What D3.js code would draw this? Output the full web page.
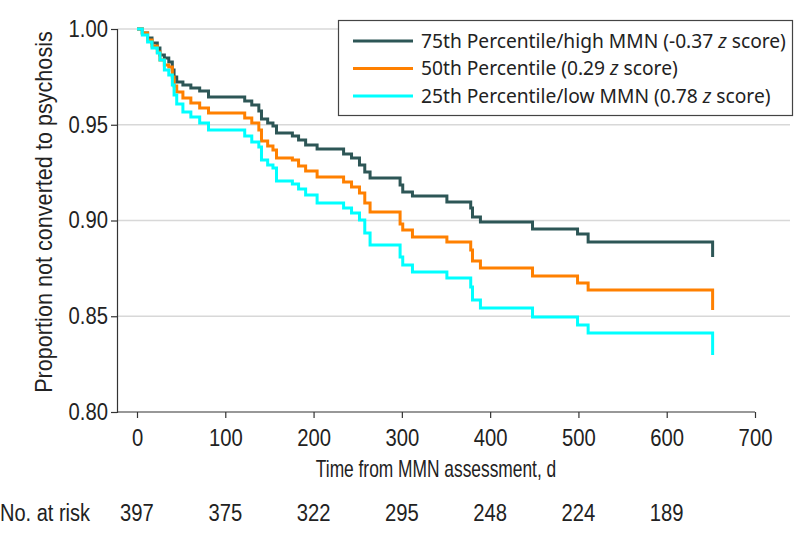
<!DOCTYPE html>
<html><head><meta charset="utf-8">
<script src="https://cdn.jsdelivr.net/npm/d3@7"></script>
<style>
body{margin:0;background:#fff;}
svg{display:block;}
.ax{font-family:"Liberation Sans",Arial,sans-serif;fill:#222;}
.lg{font-family:"Noto Sans","Open Sans",sans-serif;fill:#222;}
</style></head>
<body>
<svg id="c" width="794" height="538"></svg>
<script>
// Shared event times (days) of the model-based survival curves
const times = [6,12,17,23,26,31,36,40,42,45,52,61,71,81,122,130,138,141,148,154,158,176,183,191,204,234,243,252,258,264,298,301,312,351,378,380,389,448,499,511,652];
const seriesNames = ["75th Percentile/high MMN (-0.37 z score)","50th Percentile (0.29 z score)","25th Percentile/low MMN (0.78 z score)"];
const high = [0.9979,0.9953,0.9927,0.9901,0.9864,0.9849,0.9828,0.9786,0.9749,0.9723,0.9708,0.9692,0.9676,0.9645,0.9624,0.9603,0.9572,0.9530,0.9509,0.9493,0.9457,0.9441,0.9420,0.9394,0.9373,0.9347,0.9326,0.9290,0.9253,0.9222,0.9185,0.9149,0.9128,0.9097,0.9065,0.9018,0.8992,0.8956,0.8930,0.8888,0.8809];
const mid  = [0.9979,0.9943,0.9911,0.9880,0.9838,0.9812,0.9802,0.9749,0.9702,0.9671,0.9640,0.9614,0.9587,0.9561,0.9535,0.9509,0.9473,0.9415,0.9389,0.9368,0.9326,0.9316,0.9285,0.9258,0.9227,0.9201,0.9175,0.9144,0.9091,0.9044,0.8982,0.8950,0.8914,0.8888,0.8846,0.8789,0.8752,0.8710,0.8674,0.8637,0.8533];
const low  = [0.9969,0.9932,0.9901,0.9875,0.9838,0.9786,0.9760,0.9708,0.9655,0.9608,0.9567,0.9540,0.9509,0.9473,0.9441,0.9410,0.9384,0.9316,0.9290,0.9274,0.9206,0.9191,0.9164,0.9133,0.9091,0.9065,0.9039,0.9003,0.8935,0.8872,0.8809,0.8768,0.8731,0.8700,0.8653,0.8585,0.8543,0.8496,0.8454,0.8413,0.8298];
const xTicks = [0,100,200,300,400,500,600,700];
const yTicks = [0.80,0.85,0.90,0.95,1.00];
const riskTimes = [0,100,200,300,400,500,600];
const atRisk = [397,375,322,295,248,224,189];
const colors = ["#2d5656","#ff8000","#00ffff"];

const SX = 0.88; // horizontal condensing of axis text
function condense(sel){
  sel.each(function(){
    const t = d3.select(this);
    const x0 = +(t.attr("x")||0);
    t.attr("x", x0/SX).attr("transform", `scale(${SX},1)`);
  });
}

const svg = d3.select("#c");
const x = d3.scaleLinear().domain([0,700]).range([137,755]);
const y = d3.scaleLinear().domain([0.80,1.00]).range([412,29]);

// gridlines
svg.append("g").selectAll("line").data(yTicks.filter(d=>d>0.8)).join("line")
  .attr("x1",117).attr("x2",790).attr("y1",d=>y(d)).attr("y2",d=>y(d))
  .attr("stroke","#d8d8d8").attr("stroke-width",1.5);

// axes
const yAxis = svg.append("g").attr("transform","translate(117,0)")
  .call(d3.axisLeft(y).tickValues(yTicks).tickFormat(d3.format(".2f")).tickSize(6).tickPadding(3));
const xAxis = svg.append("g").attr("transform","translate(0,412)")
  .call(d3.axisBottom(x).tickValues(xTicks).tickSize(6).tickPadding(12));
xAxis.select(".domain").attr("d","M117,0H755");
[yAxis,xAxis].forEach(g=>{
  g.select(".domain").attr("stroke","#333").attr("stroke-width",1.2);
  g.selectAll(".tick line").attr("stroke","#333").attr("stroke-width",1.2);
  g.selectAll("text").attr("class","ax").attr("font-size",23).attr("fill","#222").call(condense);
});

// curves
const all = [high,mid,low];
const line = d3.line().x(d=>x(d[0])).y(d=>y(d[1])).curve(d3.curveStepAfter);
all.forEach((vals,i)=>{
  const pts = [[0,1]].concat(times.map((t,j)=>[t,vals[j]]));
  svg.append("path").datum(pts).attr("d",line).attr("fill","none")
    .attr("stroke",colors[i]).attr("stroke-width",3);
});

// axis titles
svg.append("text").attr("class","ax").attr("transform","translate(436,477) scale(0.755,1)")
  .attr("text-anchor","middle").attr("font-size",23)
  .text("Time from MMN assessment, d");
svg.append("text").attr("class","ax").attr("transform","translate(52,212) rotate(-90) scale(0.94,1)")
  .attr("text-anchor","middle").attr("font-size",23)
  .text("Proportion not converted to psychosis");

// number at risk
svg.append("text").attr("class","ax").attr("transform","translate(0,521) scale(0.87,1)").attr("font-size",23)
  .text("No. at risk");
svg.append("g").selectAll("text").data(atRisk).join("text").attr("class","ax")
  .attr("x",(d,i)=>x(riskTimes[i])).attr("y",521).attr("text-anchor","middle").attr("font-size",23).text(d=>d)
  .call(condense);

// legend
const lg = svg.append("g");
lg.append("rect").attr("x",338.5).attr("y",20.5).attr("width",454).attr("height",95)
  .attr("fill","#fff").attr("stroke","#444").attr("stroke-width",1.2);
seriesNames.forEach((nm,i)=>{
  const yy = 41 + i*27.5;
  lg.append("line").attr("x1",353).attr("x2",413).attr("y1",yy).attr("y2",yy)
    .attr("stroke",colors[i]).attr("stroke-width",3);
  const t = lg.append("text").attr("class","lg").attr("x",421).attr("y",yy+6.5).attr("font-size",19.2);
  const parts = nm.split(" z ");
  t.append("tspan").text(parts[0]+" ");
  t.append("tspan").attr("font-style","italic").text("z");
  t.append("tspan").text(" "+parts[1]);
});
</script>
</body></html>
